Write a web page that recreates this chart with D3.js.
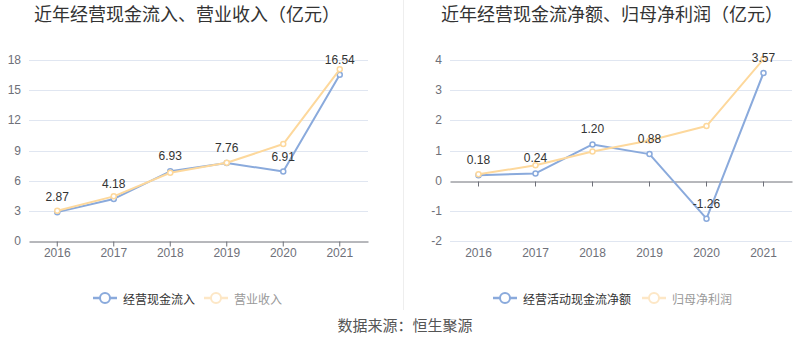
<!DOCTYPE html>
<html><head><meta charset="utf-8">
<script src="https://cdn.jsdelivr.net/npm/d3@7/dist/d3.min.js"></script>
<style>
body{margin:0;background:#fff;}
svg{display:block;font-family:"Liberation Sans","Noto Sans CJK SC",sans-serif;}
</style></head>
<body>
<svg id="c" width="800" height="358"></svg>
<script>
const years = ["2016","2017","2018","2019","2020","2021"];
const cashInflow = [2.87, 4.18, 6.93, 7.76, 6.91, 16.54];
const revenue = [3.01, 4.44, 6.79, 7.78, 9.64, 17.07];
const netCashFlow = [0.18, 0.24, 1.20, 0.88, -1.26, 3.57];
const netProfit = [0.21, 0.51, 0.97, 1.33, 1.81, 4.03];
const leftTicks = [0, 3, 6, 9, 12, 15, 18];
const rightTicks = [-2, -1, 0, 1, 2, 3, 4];

const BLUE = "#8aaadc", YELLOW = "#fdd89c";
const svg = d3.select("#c");

// divider
svg.append("line").attr("x1",403.5).attr("x2",403.5).attr("y1",0).attr("y2",310)
  .attr("stroke","#eeeeee").attr("stroke-width",1);

function panel(opt){
  const g = svg.append("g");
  const x = d3.scaleBand().domain(years).range([opt.x0, opt.x1]);
  const y = d3.scaleLinear().domain(opt.domain).range([241, 60]);
  // title
  g.append("text").attr("x",opt.titleX).attr("y",13).attr("dominant-baseline","central")
    .attr("font-size",18).attr("fill","#333").attr("font-family","Noto Sans CJK SC").text(opt.title);
  // grid
  g.append("g").selectAll("line").data(opt.ticks.filter(t=>t!==0)).join("line")
    .attr("x1",opt.x0).attr("x2",opt.x1).attr("y1",d=>Math.round(y(d))+0.5).attr("y2",d=>Math.round(y(d))+0.5)
    .attr("stroke","#e0e6f1");
  // y labels
  g.append("g").selectAll("text").data(opt.ticks).join("text")
    .attr("x",opt.x0-8).attr("y",d=>y(d)).attr("dominant-baseline","central").attr("text-anchor","end")
    .attr("font-size",12).attr("fill","#6e7079").text(d=>d);
  // x axis
  const y0 = Math.round(y(0))+0.5;
  const ax = d3.axisBottom(x).tickSize(5).tickSizeOuter(0).tickPadding(6);
  const axg = g.append("g").attr("transform",`translate(0,${y0})`).call(ax);
  axg.select(".domain").attr("stroke","#6e7079");
  axg.selectAll(".tick line").attr("stroke","#6e7079");
  axg.selectAll(".tick text").remove();
  g.append("g").selectAll("text").data(years).join("text")
    .attr("x",d=>x(d)+x.bandwidth()/2).attr("y",253).attr("dominant-baseline","central")
    .attr("text-anchor","middle").attr("font-size",12).attr("fill","#6e7079").text(d=>d);
  const line = d3.line().x((d,i)=>x(years[i])+x.bandwidth()/2).y(d=>y(d));
  function series(vals,color,labels){
    g.append("path").attr("d",line(vals)).attr("fill","none").attr("stroke",color).attr("stroke-width",2)
      .attr("stroke-linejoin","round");
    g.append("g").selectAll("circle").data(vals).join("circle")
      .attr("cx",(d,i)=>x(years[i])+x.bandwidth()/2).attr("cy",d=>y(d)).attr("r",2.5)
      .attr("fill","#fff").attr("stroke",color).attr("stroke-width",1.5);
    if(labels){
      g.append("g").selectAll("text").data(vals).join("text")
        .attr("x",(d,i)=>x(years[i])+x.bandwidth()/2).attr("y",d=>y(d)-15).attr("dominant-baseline","central")
        .attr("text-anchor","middle").attr("font-size",12).attr("fill","#333").text(d=>d.toFixed(2));
    }
  }
  series(opt.s1,BLUE,false);
  series(opt.s2,YELLOW,false);
  // labels on top of both
  g.append("g").selectAll("text").data(opt.s1).join("text")
    .attr("x",(d,i)=>x(years[i])+x.bandwidth()/2).attr("y",d=>y(d)-15).attr("dominant-baseline","central")
    .attr("text-anchor","middle").attr("font-size",12).attr("fill","#333").text(d=>d.toFixed(2));
  // legend
  const leg = [{name:opt.n1,cx:opt.l1,color:BLUE,tc:"#333"},{name:opt.n2,cx:opt.l2,color:"#fde7c6",tc:"#999"}];
  leg.forEach(l=>{
    g.append("line").attr("x1",l.cx-12).attr("x2",l.cx+12).attr("y1",298).attr("y2",298)
      .attr("stroke",l.color).attr("stroke-width",2.5);
    g.append("circle").attr("cx",l.cx).attr("cy",298).attr("r",5).attr("fill","#fff")
      .attr("stroke",l.color).attr("stroke-width",2);
    g.append("text").attr("x",l.cx+18).attr("y",298).attr("dominant-baseline","central")
      .attr("font-size",12).attr("fill",l.tc).attr("font-family","Noto Sans CJK SC").text(l.name);
  });
}

panel({x0:29,x1:368,domain:[0,18],ticks:leftTicks,s1:cashInflow,s2:revenue,
  title:"近年经营现金流入、营业收入（亿元）",titleX:34,
  n1:"经营现金流入",n2:"营业收入",l1:105,l2:216});
panel({x0:450,x1:792,domain:[-2,4],ticks:rightTicks,s1:netCashFlow,s2:netProfit,
  title:"近年经营现金流净额、归母净利润（亿元）",titleX:441,
  n1:"经营活动现金流净额",n2:"归母净利润",l1:505,l2:654});

svg.append("text").attr("x",405).attr("y",324).attr("dominant-baseline","central").attr("text-anchor","middle")
  .attr("font-size",15).attr("fill","#555").attr("font-family","Noto Sans CJK SC").text("数据来源：恒生聚源");
</script>
</body></html>
